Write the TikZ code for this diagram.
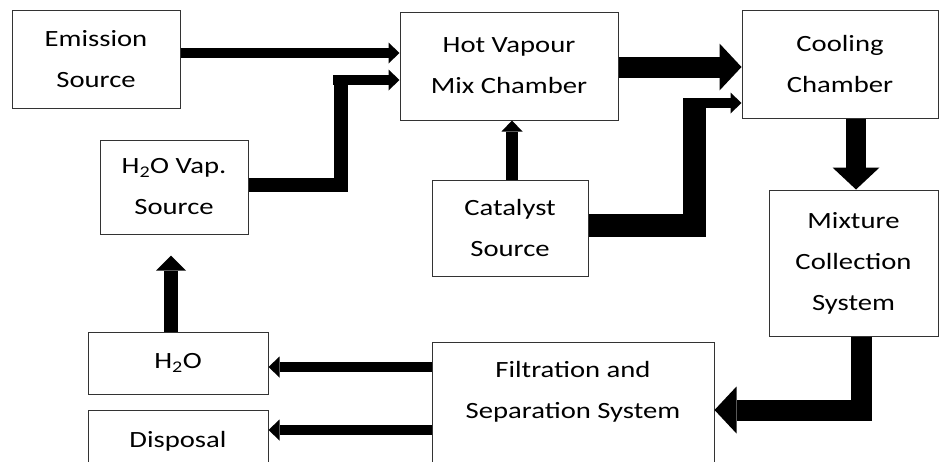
\documentclass[tikz,border=0pt]{standalone}
\usepackage{fontspec}
\setmainfont{Carlito}[FakeStretch=1.23]
\usetikzlibrary{arrows.meta}
\tikzset{
  box/.style={draw=black!80, line width=1pt, fill=white, align=center, inner sep=0pt},
  arr/.style={-{Triangle[length=11pt,width=21pt,line width=0pt]}, line width=10pt},
  bigarr/.style={-{Triangle[length=22pt,width=47pt,line width=0pt]}, line width=21pt},
  pipe/.style={line width=#1}}

\begin{document}
\begin{tikzpicture}[x=1pt, y=-1pt, font=\fontsize{23.3pt}{41pt}\selectfont]
  \useasboundingbox (0,0) rectangle (940,461);
  % boxes
  \node[box, minimum width=168pt, minimum height=98pt] (es) at (96,59) {Emission\\Source};
  \node[box, minimum width=148pt, minimum height=94pt] (hv) at (174,187) {H\textsubscript{2}O Vap.\\Source};
  \node[box, minimum width=218pt, minimum height=108pt] (hm) at (509,66) {Hot Vapour\\Mix Chamber};
  \node[box, minimum width=196pt, minimum height=108pt] (cc) at (840,64) {Cooling\\Chamber};
  \node[box, minimum width=156pt, minimum height=96pt] (cs) at (510,228) {Catalyst\\Source};
  \node[box, minimum width=169pt, minimum height=146pt] (mc) at (853.5,263) {Mixture\\Collection\\System};
  \node[box, minimum width=282pt, minimum height=178pt] (fs) at (573,431) {Filtration and\\Separation System\\\phantom{x}\\\phantom{x}};
  \node[box, minimum width=180pt, minimum height=62pt] (hw) at (178,363) {H\textsubscript{2}O};
  \node[box, minimum width=180pt, minimum height=62pt] (dp) at (178,441) {Disposal};
  % bends
  \coordinate (k1) at (340.5,75);
  \coordinate (k1a) at (333,80);
  \coordinate (k2) at (694,98);
  \coordinate (k2a) at (683,103);
  % flows
  \draw[arr] ([yshift=6pt]es.east) -- ([yshift=6pt]es.east -| hm.west);
  \draw[pipe=14pt] ([yshift=2pt]hv.east) -| (k1);
  \draw[arr] (k1a) -- (k1a -| hm.west);
  \draw[bigarr] ([yshift=-1pt]hm.east) -- ([yshift=-1pt]hm.east -| cc.west);
  \draw[arr, line width=12pt] ([xshift=2pt]cs.north) -- ([xshift=2pt]cs.north |- hm.south);
  \draw[pipe=23pt] ([yshift=3pt]cs.east) -| (k2);
  \draw[arr] (k2a) -- (k2a -| cc.west);
  \draw[bigarr, line width=20pt] ([xshift=2.5pt]mc.north |- cc.south) -- ([xshift=2.5pt]mc.north);
  \draw[bigarr] ([xshift=8pt]mc.south) |- ([yshift=21pt]fs.east);
  \draw[arr, line width=9.5pt] ([yshift=-4pt]hw.east -| fs.west) -- ([yshift=-4pt]hw.east);
  \draw[arr, line width=9.5pt] ([yshift=11pt]dp.east -| fs.west) -- ([yshift=11pt]dp.east);
  \draw[arr, line width=14pt, -{Triangle[length=15pt,width=30pt,line width=0pt]}, shorten >=21pt]
    ([xshift=-7pt]hw.north) -- ([xshift=-7pt]hw.north |- hv.south);
\end{tikzpicture}
\end{document}
